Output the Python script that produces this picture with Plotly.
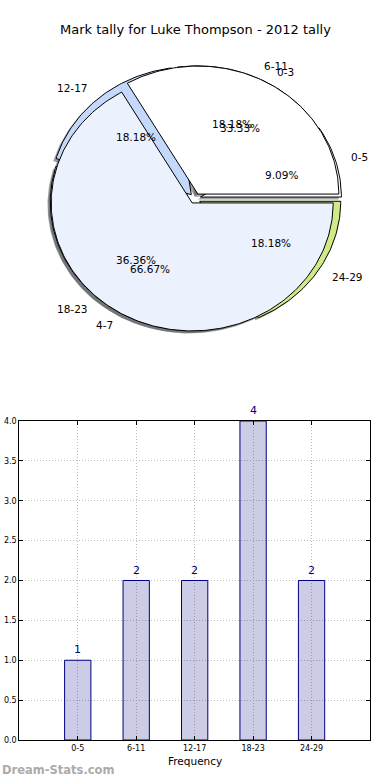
import numpy as np
import plotly.graph_objects as go

# ---------------- data ----------------
title_text = "Mark tally for Luke Thompson - 2012 tally"
outer_labels = ["0-5", "6-11", "12-17", "18-23", "24-29"]
outer_values = [1, 2, 2, 4, 2]
inner_labels = ["0-3", "4-7"]
inner_values = [1, 2]
bar_categories = ["0-5", "6-11", "12-17", "18-23", "24-29"]
bar_values = [1, 2, 2, 4, 2]
y_tick_values = [0.0, 0.5, 1.0, 1.5, 2.0, 2.5, 3.0, 3.5, 4.0]
x_axis_label = "Frequency"
watermark = "Dream-Stats.com"

# ---------------- style ----------------
outer_colors = ["#ffffff", "#ffffff", "#c4d8fc", "#ebf1fd", "#d0ea88"]
inner_colors = ["#ffffff", "#ebf1fd"]
EXPLODE = 0.04
LABEL_DIST = 1.1
PCT_DIST = 0.6
FONT = "DejaVu Sans"
W, H = 390, 780


def px_x(p):
    return p / W


def px_y(p):
    return 1 - p / H


def hex_rgb(h):
    h = h.lstrip("#")
    return tuple(int(h[i:i + 2], 16) for i in (0, 2, 4))


def wedge_geometry(values):
    total = float(sum(values))
    start = 0.0
    out = []
    for v in values:
        sweep = 360.0 * v / total
        t1, t2 = start, start + sweep
        mid = np.deg2rad((t1 + t2) / 2)
        cx, cy = EXPLODE * np.cos(mid), EXPLODE * np.sin(mid)
        th = np.deg2rad(np.linspace(t1, t2, max(int(sweep), 4)))
        xs = np.concatenate([[cx], cx + np.cos(th), [cx]])
        ys = np.concatenate([[cy], cy + np.sin(th), [cy]])
        out.append(dict(xs=xs, ys=ys, cx=cx, cy=cy, mid=mid, frac=v / total))
        start = t2
    return out


outer_geo = wedge_geometry(outer_values)
inner_geo = wedge_geometry(inner_values)

fig = go.Figure()

# shadows (drawn beneath all wedges)
for geo, cols in ((outer_geo, outer_colors), (inner_geo, inner_colors)):
    for g, c in zip(geo, cols):
        r, gg, b = hex_rgb(c)
        fig.add_trace(go.Scatter(
            x=g["xs"] - 0.02, y=g["ys"] - 0.02, mode="lines", fill="toself",
            fillcolor=f"rgba({int(r*0.3)},{int(gg*0.3)},{int(b*0.3)},0.5)",
            line=dict(width=0), hoverinfo="skip", showlegend=False,
            xaxis="x", yaxis="y"))

for geo, cols in ((outer_geo, outer_colors), (inner_geo, inner_colors)):
    for g, c in zip(geo, cols):
        fig.add_trace(go.Scatter(
            x=g["xs"], y=g["ys"], mode="lines", fill="toself", fillcolor=c,
            line=dict(color="black", width=1), hoverinfo="skip",
            showlegend=False, xaxis="x", yaxis="y"))

annotations = []
for geo, labels in ((outer_geo, outer_labels), (inner_geo, inner_labels)):
    for g, lab in zip(geo, labels):
        xt = g["cx"] + LABEL_DIST * np.cos(g["mid"])
        yt = g["cy"] + LABEL_DIST * np.sin(g["mid"])
        annotations.append(dict(
            x=xt, y=yt, xref="x", yref="y", text=lab, showarrow=False,
            xanchor="left" if xt > 0 else "right", yanchor="middle",
            font=dict(family=FONT, size=10.5, color="black")))
        xp = g["cx"] + PCT_DIST * np.cos(g["mid"])
        yp = g["cy"] + PCT_DIST * np.sin(g["mid"])
        annotations.append(dict(
            x=xp, y=yp, xref="x", yref="y", text=f"{100*g['frac']:.2f}%",
            showarrow=False, xanchor="center", yanchor="middle",
            font=dict(family=FONT, size=10.5, color="black")))

# ---------------- bars ----------------
fig.add_trace(go.Bar(
    x=bar_categories, y=bar_values, width=0.45,
    marker=dict(color="rgba(0,0,128,0.2)", line=dict(color="#000080", width=1)),
    hoverinfo="skip", showlegend=False, xaxis="x2", yaxis="y2"))

for c, v in zip(bar_categories, bar_values):
    annotations.append(dict(
        x=c, y=v, xref="x2", yref="y2", text=str(v), showarrow=False,
        xanchor="center", yanchor="bottom", yshift=2,
        font=dict(family=FONT, size=11, color="#000080")))

annotations.append(dict(
    x=0.5, y=px_y(30), xref="paper", yref="paper", text=title_text,
    showarrow=False, xanchor="center", yanchor="middle",
    font=dict(family=FONT, size=13, color="black")))
annotations.append(dict(
    x=px_x(194.6), y=px_y(761), xref="paper", yref="paper", text=x_axis_label,
    showarrow=False, xanchor="center", yanchor="middle",
    font=dict(family=FONT, size=10.5, color="black")))
annotations.append(dict(
    x=0, y=px_y(770), xref="paper", yref="paper", text=watermark,
    showarrow=False, xanchor="left", yanchor="middle",
    font=dict(family=FONT, size=11.5, color="#ababab", weight="bold")))

# pie axis: center at (195, 198.5) px, 141 px per unit in x, 128 in y
PX0, PX1 = 19.3, 370.0
PY0, PY1 = 40.0, 370.0
CXP, CYP, RX, RY = 195.0, 198.5, 141.0, 128.0

grid_common = dict(showline=True, mirror="ticks", linecolor="black", linewidth=1,
                   ticks="inside", ticklen=4, tickcolor="black",
                   showgrid=True, gridcolor="#bdbdbd", griddash="1px,2px",
                   gridwidth=1, zeroline=False, automargin=False,
                   tickfont=dict(family=FONT, size=8, color="black"))

fig.update_layout(
    width=W, height=H,
    margin=dict(l=0, r=0, t=0, b=0, pad=0, autoexpand=False),
    paper_bgcolor="white", plot_bgcolor="white",
    annotations=annotations,
    xaxis=dict(domain=[px_x(PX0), px_x(PX1)],
               range=[(PX0 - CXP) / RX, (PX1 - CXP) / RX],
               visible=False, fixedrange=True, automargin=False),
    yaxis=dict(domain=[px_y(PY1), px_y(PY0)],
               range=[-(PY1 - CYP) / RY, (CYP - PY0) / RY],
               visible=False, fixedrange=True, automargin=False),
    xaxis2=dict(domain=[px_x(19.3), px_x(370.0)], anchor="y2",
                range=[-1, 5], type="category", **grid_common),
    yaxis2=dict(domain=[px_y(740), px_y(421)], anchor="x2",
                range=[0, 4], tickvals=y_tick_values, tickformat=".1f",
                **grid_common),
)

fig.write_html("out.html", config={"displayModeBar": False},
               post_script="document.body.style.margin='0';document.body.style.padding='0';")
